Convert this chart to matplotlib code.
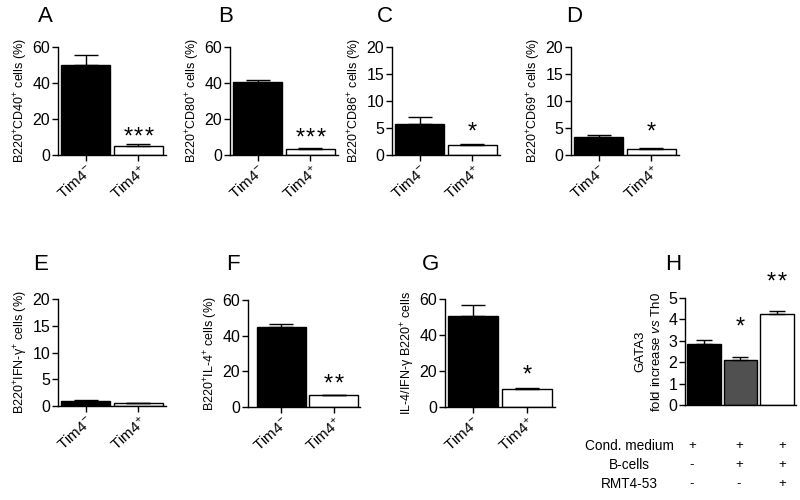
import matplotlib
matplotlib.use("Agg")
import matplotlib.pyplot as plt

plt.rcParams['font.family'] = ['Liberation Sans', 'DejaVu Sans']
plt.rcParams['mathtext.fontset'] = 'custom'
plt.rcParams['mathtext.rm'] = 'Liberation Sans'
plt.rcParams['mathtext.it'] = 'Liberation Sans:italic'
plt.rcParams['axes.linewidth'] = 1.0

# ---- data ----
groups = ["Tim4$^{-}$", "Tim4$^{+}$"]

a_vals = [50.0, 5.2];  a_err = [5.5, 0.8]
b_vals = [40.7, 3.6];  b_err = [1.0, 0.4]
c_vals = [5.7, 1.9];   c_err = [1.3, 0.2]
d_vals = [3.3, 1.2];   d_err = [0.4, 0.15]
e_vals = [0.9, 0.6];   e_err = [0.2, 0.05]
f_vals = [45.0, 6.6];  f_err = [1.5, 0.1]
g_vals = [50.5, 10.0]; g_err = [6.0, 0.8]

h_vals = [2.85, 2.12, 4.25]
h_err = [0.18, 0.13, 0.12]
h_colors = ["black", "#505050", "white"]
h_rows = ["Cond. medium", "B-cells", "RMT4-53"]
h_signs = [["+", "+", "+"], ["-", "+", "+"], ["-", "-", "+"]]

panels = [
    # letter, vals, err, ylabel, ymax, ystep, n_stars, star_y
    ("A", a_vals, a_err, "B220$^{+}$CD40$^{+}$ cells (%)", 60, 20, 3, 13.0),
    ("B", b_vals, b_err, "B220$^{+}$CD80$^{+}$ cells (%)", 60, 20, 3, 12.5),
    ("C", c_vals, c_err, "B220$^{+}$CD86$^{+}$ cells (%)", 20, 5, 1, 5.2),
    ("D", d_vals, d_err, "B220$^{+}$CD69$^{+}$ cells (%)", 20, 5, 1, 5.2),
    ("E", e_vals, e_err, "B220$^{+}$IFN-γ$^{+}$ cells (%)", 20, 5, 0, 0),
    ("F", f_vals, f_err, "B220$^{+}$IL-4$^{+}$ cells (%)", 60, 20, 2, 15.5),
    ("G", g_vals, g_err, "IL-4/IFN-γ B220$^{+}$ cells", 60, 20, 1, 20.5),
]

# axes rectangles in pixels: left, right, top, bottom
rects = {
    "A": (58, 166, 47, 155),
    "B": (230, 338, 47, 155),
    "C": (392, 500, 47, 155),
    "D": (571, 679, 47, 155),
    "E": (58, 166, 299, 406),
    "F": (248, 360, 300, 407),
    "G": (445, 555, 299, 407),
    "H": (685, 796, 298, 405),
}
xlims = {"F": (-0.64, 1.5)}
letter_pos = {"A": (38, 17), "B": (218, 17), "C": (377, 17), "D": (566, 17),
              "E": (33, 265), "F": (226, 265), "G": (422, 265), "H": (665, 265)}

W, H = 800, 500
fig = plt.figure(figsize=(8, 5), dpi=100)


def make_ax(key):
    l, r, t, b = rects[key]
    ax = fig.add_axes([l / W, 1 - b / H, (r - l) / W, (b - t) / H])
    ax.spines['top'].set_visible(False)
    ax.spines['right'].set_visible(False)
    ax.tick_params(axis='both', direction='out', length=4, width=1, labelsize=11.5, pad=1.5)
    return ax


def put_stars(ax, x, y, n):
    for k in range(n):
        ax.annotate("*", (x, y), ha='center', va='center', fontsize=17,
                    xytext=((k - (n - 1) / 2) * 7.6, -4), textcoords='offset points',
                    annotation_clip=False)


for letter, vals, err, ylab, ymax, ystep, nstar, star_y in panels:
    ax = make_ax(letter)
    x = [0, 1]
    ax.bar(x, vals, width=0.93, color=["black", "white"], edgecolor="black", linewidth=1.0, zorder=2)
    ax.errorbar(x, vals, yerr=[[0, 0], err], fmt='none', ecolor='black', elinewidth=1.0,
                capsize=8.5, capthick=1.0, zorder=3)
    ax.set_xlim(*xlims.get(letter, (-0.52, 1.52)))
    ax.set_ylim(0, ymax)
    ax.set_yticks(range(0, ymax + 1, ystep))
    ax.set_xticks(x)
    ax.set_xticklabels(groups, rotation=42, ha='right', rotation_mode='anchor', fontsize=11)
    ax.set_ylabel(ylab, fontsize=9, labelpad=2)
    if nstar:
        put_stars(ax, 1, star_y, nstar)

# Panel H
ax = make_ax("H")
xh = [0, 1, 2]
ax.bar(xh, h_vals, width=0.92, color=h_colors, edgecolor="black", linewidth=1.0, zorder=2)
ax.errorbar(xh, h_vals, yerr=[[0, 0, 0], h_err], fmt='none', ecolor='black', elinewidth=1.0,
            capsize=6, capthick=1.0, zorder=3)
ax.set_xlim(-0.515, 2.52)
ax.set_ylim(0, 5)
ax.set_yticks(range(0, 6))
ax.set_xticks([])
ax.set_ylabel("GATA3\nfold increase $vs$ Th0", fontsize=9.5, labelpad=4, linespacing=1.35)
put_stars(ax, 1, 3.9, 1)
put_stars(ax, 2, 6.0, 2)

# condition table under H
row_y = [446, 465, 484]
sign_x = [692, 739, 782]
for i, label in enumerate(h_rows):
    fig.text(629 / W, 1 - row_y[i] / H, label, ha='center', va='center', fontsize=9.8)
    for j, s in enumerate(h_signs[i]):
        fig.text(sign_x[j] / W, 1 - row_y[i] / H, s, ha='center', va='center', fontsize=9.5)

for key, (px, py) in letter_pos.items():
    fig.text(px / W, 1 - py / H, key, ha='left', va='center', fontsize=16)

fig.savefig("out.png", dpi=100)
